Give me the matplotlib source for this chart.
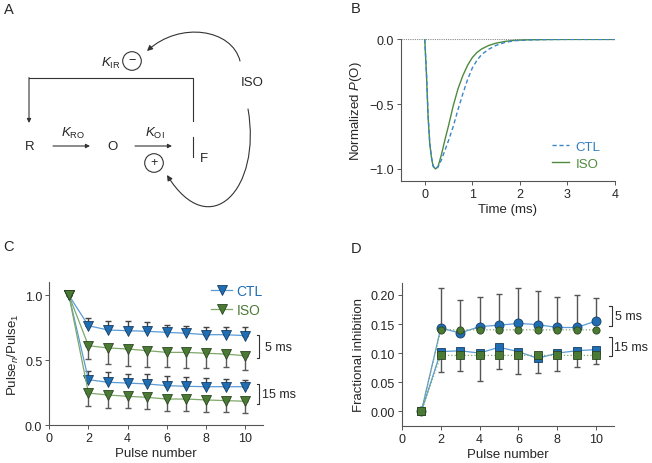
import numpy as np
import matplotlib
matplotlib.use('Agg')
import matplotlib.pyplot as plt
from matplotlib.patches import Circle, FancyArrowPatch
from matplotlib.path import Path

plt.rcParams['font.family'] = ['Liberation Sans', 'DejaVu Sans']
plt.rcParams['mathtext.fontset'] = 'custom'
plt.rcParams['mathtext.rm'] = 'Liberation Sans'
plt.rcParams['mathtext.it'] = 'Liberation Sans:italic'
plt.rcParams['font.size'] = 9

# panel B: normalized P(O) traces
time_ms = [0, 0.035, 0.07, 0.105, 0.14, 0.175, 0.225, 0.28, 0.35, 0.42, 0.5, 0.6, 0.7,
           0.8, 0.9, 1.0, 1.1, 1.2, 1.35, 1.5, 1.7, 1.9, 2.2, 2.6, 3.0, 4.0]
po_ctl = [0, -0.26, -0.59, -0.80, -0.91, -0.975, -1.0, -0.985, -0.93, -0.86, -0.78, -0.67, -0.54,
          -0.42, -0.31, -0.22, -0.16, -0.115, -0.075, -0.046, -0.022, -0.010, -0.004, -0.001, 0, 0]
po_iso = [0, -0.265, -0.60, -0.806, -0.91, -0.98, -1.0, -0.98, -0.89, -0.78, -0.665, -0.51, -0.38,
          -0.28, -0.20, -0.14, -0.10, -0.073, -0.046, -0.029, -0.015, -0.007, -0.003, -0.001, 0, 0]

# panel C: Pulse_n / Pulse_1
pulses = [1, 2, 3, 4, 5, 6, 7, 8, 9, 10]
ctl5 = [1.0, 0.766, 0.733, 0.728, 0.723, 0.715, 0.708, 0.697, 0.697, 0.690]
ctl5_err = [0, 0.059, 0.067, 0.072, 0.069, 0.059, 0.058, 0.063, 0.063, 0.064]
iso5 = [1.0, 0.612, 0.595, 0.587, 0.574, 0.561, 0.561, 0.554, 0.548, 0.535]
iso5_err = [0, 0.102, 0.123, 0.128, 0.128, 0.115, 0.120, 0.113, 0.102, 0.110]
ctl15 = [1.0, 0.351, 0.331, 0.325, 0.318, 0.305, 0.300, 0.297, 0.297, 0.297]
ctl15_err = [0, 0.064, 0.077, 0.070, 0.077, 0.072, 0.069, 0.067, 0.059, 0.054]
iso15 = [1.0, 0.248, 0.233, 0.223, 0.215, 0.202, 0.202, 0.195, 0.190, 0.185]
iso15_err = [0, 0.102, 0.102, 0.092, 0.090, 0.090, 0.090, 0.095, 0.090, 0.093]

# panel D: fractional inhibition
ctl5_inh = [0, 0.143, 0.1346, 0.1455, 0.148, 0.151, 0.149, 0.144, 0.144, 0.155]
ctl5_inh_err = [0, 0.069, 0.057, 0.0505, 0.054, 0.061, 0.057, 0.053, 0.056, 0.039]
iso5_inh = [0, 0.14, 0.14, 0.14, 0.14, 0.14, 0.14, 0.14, 0.14, 0.14]
ctl15_inh = [0, 0.1025, 0.104, 0.100, 0.110, 0.1025, 0.091, 0.100, 0.104, 0.106]
ctl15_inh_err = [0, 0.0345, 0.034, 0.0485, 0.038, 0.0385, 0.026, 0.030, 0.028, 0.025]
iso15_inh = [0, 0.096, 0.096, 0.096, 0.096, 0.096, 0.096, 0.096, 0.096, 0.096]

blue = '#1f6db3'
blue_edge = '#173d63'
blue_line = '#5a9bd6'
green = '#4b7a35'
green_edge = '#2b4620'
green_line = '#7ea86a'
ink = '#262626'
spine_col = '#555555'

W, H = 652, 464
fig = plt.figure(figsize=(W / 100, H / 100), dpi=100)


def box(left, top, right, bottom):
    return [left / W, 1 - bottom / H, (right - left) / W, (bottom - top) / H]


def style(ax):
    for s in ['top', 'right']:
        ax.spines[s].set_visible(False)
    for s in ['left', 'bottom']:
        ax.spines[s].set_color(spine_col)
        ax.spines[s].set_linewidth(0.8)
    ax.tick_params(direction='out', length=3, width=0.7, color=spine_col,
                   labelcolor=ink, labelsize=9, pad=2)


# ---------- A: scheme (pixel coordinates) ----------
axA = fig.add_axes([0, 0, 1, 1])
axA.set_xlim(0, W)
axA.set_ylim(H, 0)
axA.axis('off')

lk = dict(color='#333333', lw=0.8)
axA.plot([29, 193, 193], [79, 79, 122], **lk)
axA.plot([193, 193], [138, 158], **lk)
axA.annotate('', xy=(29, 124), xytext=(29, 78.6),
             arrowprops=dict(arrowstyle='-|>', color='#333333', lw=0.8, mutation_scale=6,
                             shrinkA=0, shrinkB=0))
for x0, x1 in [(53, 90), (135, 172)]:
    axA.annotate('', xy=(x1, 147), xytext=(x0, 147),
                 arrowprops=dict(arrowstyle='-|>', color='#333333', lw=0.8, mutation_scale=6,
                                 shrinkA=0, shrinkB=0))

tk = dict(ha='center', va='center', fontsize=9.5, color=ink)
axA.text(30, 147, 'R', **tk)
axA.text(112, 147, 'O', **tk)
axA.text(204, 159, 'F', **tk)
axA.text(252, 83, 'ISO', **tk)
axA.text(73, 133, r'$K_{\mathrm{RO}}$', **tk)
axA.text(155, 133, r'$K_{\mathrm{OI}}$', **tk)
axA.text(111, 63, r'$K_{\mathrm{IR}}$', **tk)

for cx, cy, sign in [(132, 62, '\u2212'), (154, 164, '+')]:
    axA.add_patch(Circle((cx, cy), 9.3, fill=False, ec='#333333', lw=0.8))
    axA.text(cx, cy - 0.5, sign, ha='center', va='center', fontsize=9, color=ink)

for verts in [[(240, 62), (232, 30), (180, 22), (147, 52)],
              [(248, 110), (262, 190), (210, 245), (167, 176)]]:
    p = Path(verts, [Path.MOVETO, Path.CURVE4, Path.CURVE4, Path.CURVE4])
    axA.add_patch(FancyArrowPatch(path=p, arrowstyle='-|>', mutation_scale=8,
                                  color='#333333', lw=0.8))

for lab, x, y in [('A', 9, 10), ('B', 356, 9), ('C', 9, 247), ('D', 356, 249)]:
    axA.text(x, y, lab, ha='center', va='center', fontsize=10.5, color=ink)

# ---------- B ----------
axB = fig.add_axes(box(401, 40, 615, 182))
style(axB)
axB.axhline(0, color='#888888', lw=0.8, ls=(0, (1, 1)), zorder=1)
axB.plot(time_ms, po_ctl, color='#3a86c8', lw=1.0, ls=(0, (3, 2)), label='CTL', zorder=3)
axB.plot(time_ms, po_iso, color='#4f8a3c', lw=1.0, label='ISO', zorder=2)
axB.set_xlim(-0.5, 4)
axB.set_ylim(-1.093, 0.003)
axB.set_xticks([0, 1, 2, 3, 4])
axB.set_yticks([0, -0.5, -1.0])
axB.set_yticklabels(['0.0', '\u22120.5', '\u22121.0'])
axB.set_xlabel('Time (ms)', color=ink, labelpad=2, fontsize=9.5)
axB.set_ylabel(r'Normalized $P$(O)', color=ink, labelpad=4, fontsize=9.5)
legB = axB.legend(loc='upper left', bbox_to_anchor=(0.675, 0.33), frameon=False,
                  handlelength=1.3, handletextpad=0.5, borderpad=0, labelspacing=0.35,
                  fontsize=9.5)
for t, c in zip(legB.get_texts(), ['#2f7fc0', '#4f8a3c']):
    t.set_color(c)

# ---------- C ----------
axC = fig.add_axes(box(49.3, 283.3, 262.8, 426.3))
style(axC)
zeros = np.zeros(len(pulses))
ek = dict(fmt='none', capsize=2.3, elinewidth=1.0, capthick=1.0, zorder=1)
axC.errorbar(pulses, ctl5, yerr=[zeros, ctl5_err], ecolor='#444444', **ek)
axC.errorbar(pulses, ctl15, yerr=[zeros, ctl15_err], ecolor='#444444', **ek)
axC.errorbar(pulses, iso5, yerr=[iso5_err, zeros], ecolor='#5a5a5a', **ek)
axC.errorbar(pulses, iso15, yerr=[iso15_err, zeros], ecolor='#5a5a5a', **ek)
mk = dict(marker='v', ms=7.5, mew=0.6, lw=0.9, zorder=3)
axC.plot(pulses, ctl5, color=blue_line, mfc=blue, mec=blue_edge, label='CTL', **mk)
axC.plot(pulses, ctl15, color=blue_line, mfc=blue, mec=blue_edge, **mk)
axC.plot(pulses, iso5, color=green_line, mfc=green, mec=green_edge, label='ISO', **mk)
axC.plot(pulses, iso15, color=green_line, mfc=green, mec=green_edge, **mk)
axC.set_xlim(0, 10.9)
axC.set_ylim(0, 1.1)
axC.set_xticks([0, 2, 4, 6, 8, 10])
axC.set_yticks([0, 0.5, 1.0])
axC.set_yticklabels(['0.0', '0.5', '1.0'])
axC.set_xlabel('Pulse number', color=ink, labelpad=2, fontsize=9.5)
axC.set_ylabel(r'Pulse$_n$/Pulse$_1$', color=ink, labelpad=3, fontsize=9.5)
legC = axC.legend(loc='upper left', bbox_to_anchor=(0.727, 1.035), frameon=False,
                  handlelength=1.5, handletextpad=0.3, borderpad=0, labelspacing=0.35,
                  fontsize=10)
for t, c in zip(legC.get_texts(), [blue, green]):
    t.set_color(c)

bk = dict(color='#333333', lw=0.8, clip_on=False)
for y0, y1, lab, xt in [(0.515, 0.695, '5 ms', 11.0), (0.166, 0.315, '15 ms', 10.85)]:
    axC.plot([10.58, 10.72, 10.72, 10.58], [y0, y0, y1, y1], **bk)
    axC.text(xt, (y0 + y1) / 2, lab, ha='left', va='center', fontsize=9, color=ink,
             clip_on=False)

# ---------- D ----------
axD = fig.add_axes(box(402, 283.7, 614.4, 426.8))
style(axD)
ek2 = dict(fmt='none', capsize=2.3, elinewidth=1.0, capthick=1.0, ecolor='#555555', zorder=1)
axD.errorbar(pulses, ctl5_inh, yerr=[zeros, ctl5_inh_err], **ek2)
axD.errorbar(pulses, ctl15_inh, yerr=[ctl15_inh_err, zeros], **ek2)
axD.plot(pulses, ctl5_inh, color=blue_line, marker='o', ms=6.5, mfc=blue, mec=blue_edge,
         mew=0.6, lw=0.9, zorder=3)
axD.plot(pulses, ctl15_inh, color=blue_line, marker='s', ms=6.0, mfc=blue, mec=blue_edge,
         mew=0.6, lw=0.9, zorder=3)
axD.plot(pulses, iso5_inh, color=green_line, ls=':', marker='o', ms=5.2, mfc=green,
         mec=green_edge, mew=0.6, lw=0.9, zorder=4)
axD.plot(pulses, iso15_inh, color=green_line, ls=':', marker='s', ms=6.0, mfc=green,
         mec=green_edge, mew=0.6, lw=0.9, zorder=4)
axD.set_xlim(0, 10.95)
axD.set_ylim(-0.025, 0.221)
axD.set_xticks([0, 2, 4, 6, 8, 10])
axD.set_yticks([0, 0.05, 0.10, 0.15, 0.20])
axD.set_yticklabels(['0.00', '0.05', '0.10', '0.15', '0.20'])
axD.set_xlabel('Pulse number', color=ink, labelpad=2, fontsize=9.5)
axD.set_ylabel('Fractional inhibition', color=ink, labelpad=4, fontsize=9.5)
for y0, y1, lab, xt in [(0.147, 0.181, '5 ms', 11.0), (0.0945, 0.127, '15 ms', 10.95)]:
    axD.plot([10.68, 10.81, 10.81, 10.68], [y0, y0, y1, y1], **bk)
    axD.text(xt, (y0 + y1) / 2, lab, ha='left', va='center', fontsize=9, color=ink,
             clip_on=False)

fig.savefig('out.png', dpi=100)
